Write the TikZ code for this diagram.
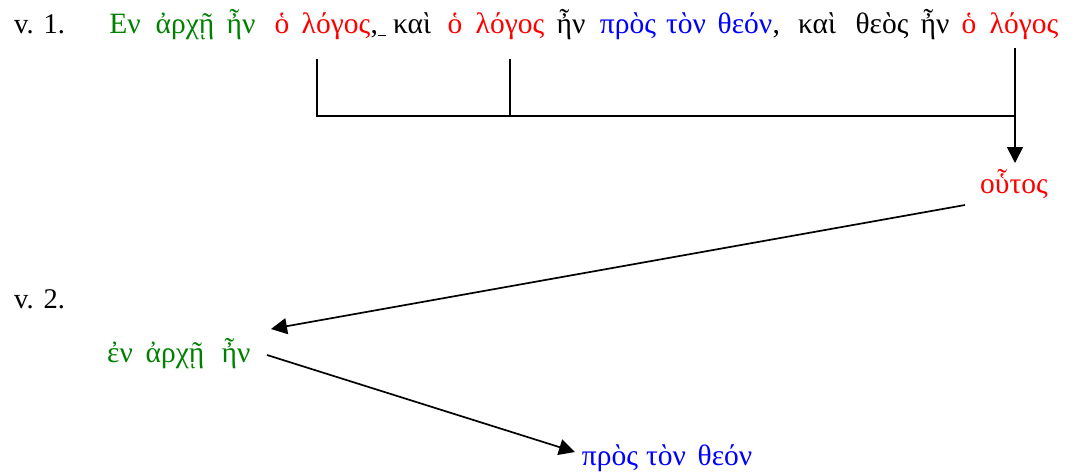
\documentclass[tikz,border=0pt]{standalone}
\usepackage{fontspec}
\setmainfont{Liberation Serif}
\usetikzlibrary{arrows.meta}
\definecolor{grgreen}{RGB}{0,128,0}
\definecolor{grred}{RGB}{255,0,0}
\definecolor{grblue}{RGB}{0,0,255}
\begin{document}
\begin{tikzpicture}[x=1pt,y=-1pt,
  lat/.style={anchor=base west, inner sep=0pt, font=\fontsize{28.5}{34}\selectfont},
  txt/.style={anchor=base, inner sep=0pt, font=\fontsize{29.5}{36}\selectfont},
  gn/.style={txt,text=grgreen},
  rd/.style={txt,text=grred},
  bl/.style={txt,text=grblue},
  conn/.style={line width=1.7pt},
  arr/.style={conn,-{Triangle[length=16pt,width=16pt]}}]
\useasboundingbox (0,0) rectangle (1072,472);
% verse 1
\node[lat] (v1) at (14,33) {v.\hspace{0.35em}1.};
\node[gn] (w1) at (125,33) {Εν};
\node[gn] (w2) at (185,33) {ἀρχῇ};
\node[gn] (w3) at (241,33) {ἦν};
\node[rd] (w4) at (282,33) {ὁ};
\node[rd] (w5) at (336,33) {λόγος};
\node[txt,anchor=base west] (w6) at (w5.base east) {,\rule[-3pt]{8pt}{1pt}};
\node[txt] (w7) at (412,33) {καὶ};
\node[rd] (w8) at (455,33) {ὁ};
\node[rd] (w9) at (510,33) {λόγος};
\node[txt] (w10) at (571,33) {ἦν};
\node[bl] (w11) at (628,33) {πρὸς};
\node[bl] (w12) at (686,33) {τὸν};
\node[bl] (w13) at (745,33) {θεόν};
\node[txt,anchor=base west] (w14) at (w13.base east) {,};
\node[txt] (w15) at (817,33) {καὶ};
\node[txt] (w16) at (882,33) {θεὸς};
\node[txt] (w17) at (935,33) {ἦν};
\node[rd] (w18) at (969,33) {ὁ};
\node[rd] (w19) at (1024,33) {λόγος};
\node[rd] (outos) at (1014,193) {οὗτος};
% verse 2
\node[lat] (v2) at (14,308) {v.\hspace{0.35em}2.};
\node[gn] (x1) at (120,362) {ἐν};
\node[gn] (x2) at (175,362) {ἀρχῇ};
\node[gn] (x3) at (236,362) {ἦν};
\node[bl] (y1) at (610,465) {πρὸς};
\node[bl] (y2) at (666,465) {τὸν};
\node[bl] (y3) at (725,465) {θεόν};
% connector points
\coordinate (a1) at (317,59);
\coordinate (a2) at (510,59);
\coordinate (a3) at (1015,48);
\coordinate (h1) at (317,116);
\coordinate (h2) at (510,116);
\coordinate (h3) at (1015,116);
\coordinate (t1) at (1015,163);
\coordinate (s2) at (965,205);
\coordinate (t2) at (271,329);
\coordinate (s3) at (267,355);
\coordinate (t3) at (575,452);
\draw[conn] (a1) -- (h1) -- (h3);
\draw[conn] (a2) -- (h2);
\draw[arr] (a3) -- (t1);
\draw[arr] (s2) -- (t2);
\draw[arr] (s3) -- (t3);
\end{tikzpicture}
\end{document}
